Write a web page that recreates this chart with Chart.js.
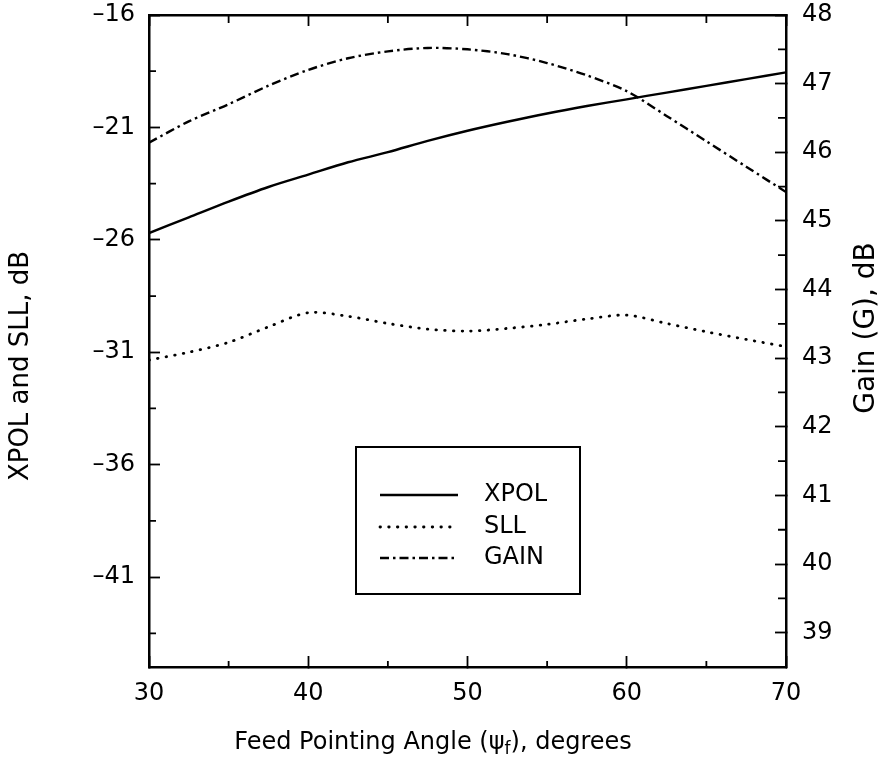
<!DOCTYPE html>
<html>
<head>
<meta charset="utf-8">
<script src="https://cdn.jsdelivr.net/npm/chart.js@4.4.1/dist/chart.umd.min.js"></script>
<style>
  html, body { margin: 0; padding: 0; background: #fff; }
  #wrap { width: 889px; height: 764px; }
</style>
</head>
<body>
<div id="wrap"><canvas id="chart" width="889" height="764"></canvas></div>
<script>
// feed pointing angle, degrees
const angles = [30, 32.5, 35, 37.5, 40, 42.5, 45, 47.5, 50, 52.5, 55, 57.5, 60, 62.5, 65, 67.5, 70];
// cross-polar level, dB (left axis)
const xpol = [-25.7, -25.0, -24.3, -23.65, -23.1, -22.55, -22.1, -21.6, -21.15, -20.75, -20.38, -20.05, -19.75, -19.45, -19.15, -18.85, -18.55];
// side lobe level, dB (left axis)
const sll = [-31.35, -31.0, -30.56, -29.87, -29.24, -29.4, -29.72, -29.97, -30.06, -29.94, -29.76, -29.52, -29.35, -29.72, -30.09, -30.43, -30.75];
// gain, dB (right axis)
const gain = [46.14, 46.45, 46.7, 46.97, 47.2, 47.37, 47.47, 47.52, 47.5, 47.43, 47.3, 47.12, 46.89, 46.53, 46.16, 45.79, 45.42];

const xMajor = [30, 40, 50, 60, 70];
const xMinor = [35, 45, 55, 65];
const leftMajor = [-16, -21, -26, -31, -36, -41];
const leftMinor = [-18.5, -23.5, -28.5, -33.5, -38.5, -43.5];
const rightMajor = [39, 40, 41, 42, 43, 44, 45, 46, 47, 48];
const rightMinor = [39.5, 40.5, 41.5, 42.5, 43.5, 44.5, 45.5, 46.5, 47.5];

const FONT = 'DejaVu Sans';
const INK = '#000';

const pts = (ys) => angles.map((a, i) => ({ x: a, y: ys[i] }));
const fixTicks = (vals) => (scale) => { scale.ticks = vals.map(v => ({ value: v })); };
const minus = (v) => (v < 0 ? '\u2013' + Math.abs(v) : String(v));

const gridOpts = {
    drawOnChartArea: false,
    drawTicks: true,
    tickLength: -11,
    tickWidth: 1.8,
    tickColor: INK
};
const borderOpts = { display: true, color: INK, width: 2.5 };
const tickFont = { family: FONT, size: 24 };

// fixed axis sizes so the plot frame stays put
const sizeX = (h) => (s) => { s.height = h; s.paddingLeft = 0; s.paddingRight = 0; };
const sizeY = (w) => (s) => { s.width = w; s.paddingTop = 0; s.paddingBottom = 0; };

// minor ticks, titles and the boxed legend
const decorations = {
    id: 'decorations',
    afterDraw(chart) {
        const ctx = chart.ctx;
        const { x, y, y1 } = chart.scales;
        const area = chart.chartArea;

        ctx.save();
        ctx.strokeStyle = INK;
        ctx.lineWidth = 1.8;
        ctx.beginPath();
        xMinor.forEach(v => {
            const px = x.getPixelForValue(v);
            ctx.moveTo(px, area.bottom); ctx.lineTo(px, area.bottom - 6);
            ctx.moveTo(px, area.top); ctx.lineTo(px, area.top + 8);
        });
        leftMinor.forEach(v => {
            const py = y.getPixelForValue(v);
            ctx.moveTo(area.left, py); ctx.lineTo(area.left + 7, py);
        });
        rightMinor.forEach(v => {
            const py = y1.getPixelForValue(v);
            ctx.moveTo(area.right, py); ctx.lineTo(area.right - 8, py);
        });
        ctx.stroke();

        // axis titles
        ctx.fillStyle = INK;
        ctx.textAlign = 'center';
        ctx.textBaseline = 'middle';

        ctx.font = '26px ' + FONT;
        ctx.save();
        ctx.translate(21, 366);
        ctx.rotate(-Math.PI / 2);
        ctx.fillText('XPOL and SLL, dB', 0, 0);
        ctx.restore();

        ctx.font = '28px ' + FONT;
        ctx.save();
        ctx.translate(867, 328);
        ctx.rotate(-Math.PI / 2);
        ctx.fillText('Gain (G), dB', 0, 0);
        ctx.restore();

        // x title with subscript f
        const head = 'Feed Pointing Angle (\u03c8';
        const tail = '), degrees';
        ctx.font = '24px ' + FONT;
        const wHead = ctx.measureText(head).width;
        const wTail = ctx.measureText(tail).width;
        ctx.font = '17px ' + FONT;
        const wSub = ctx.measureText('f').width;
        const total = wHead + wSub + wTail;
        let tx = 433 - total / 2;
        const ty = 743;
        ctx.textAlign = 'left';
        ctx.font = '24px ' + FONT;
        ctx.fillText(head, tx, ty);
        tx += wHead;
        ctx.font = '17px ' + FONT;
        ctx.fillText('f', tx, ty + 7);
        tx += wSub;
        ctx.font = '24px ' + FONT;
        ctx.fillText(tail, tx, ty);

        // legend
        ctx.lineWidth = 2;
        ctx.setLineDash([]);
        ctx.strokeRect(356, 447, 224, 147);
        const rows = [495, 527, 558];
        ctx.font = '24px ' + FONT;
        chart.data.datasets.forEach((ds, i) => {
            ctx.save();
            ctx.strokeStyle = ds.borderColor;
            ctx.lineWidth = ds.borderWidth;
            ctx.lineCap = ds.borderCapStyle || 'butt';
            ctx.setLineDash(ds.borderDash || []);
            ctx.beginPath();
            ctx.moveTo(380, rows[i]);
            ctx.lineTo(458, rows[i]);
            ctx.stroke();
            ctx.restore();
            ctx.fillText(ds.label, 484, rows[i]);
        });
        ctx.restore();
    }
};

new Chart(document.getElementById('chart'), {
    type: 'line',
    data: {
        datasets: [
            {
                label: 'XPOL',
                data: pts(xpol),
                yAxisID: 'y',
                borderColor: INK,
                borderWidth: 2.4,
                pointRadius: 0,
                tension: 0.3
            },
            {
                label: 'SLL',
                data: pts(sll),
                yAxisID: 'y',
                borderColor: INK,
                borderWidth: 2.8,
                borderCapStyle: 'round',
                borderDash: [0.5, 8.2],
                pointRadius: 0,
                tension: 0.3
            },
            {
                label: 'GAIN',
                data: pts(gain),
                yAxisID: 'y1',
                borderColor: INK,
                borderWidth: 2.4,
                borderDash: [9, 4, 2.5, 4],
                pointRadius: 0,
                tension: 0.3
            }
        ]
    },
    options: {
        responsive: false,
        devicePixelRatio: 1,
        animation: false,
        layout: { padding: 0 },
        plugins: {
            legend: { display: false },
            tooltip: { enabled: false }
        },
        scales: {
            x: {
                type: 'linear',
                position: 'bottom',
                min: 30,
                max: 70,
                afterBuildTicks: fixTicks(xMajor),
                afterFit: sizeX(97),
                grid: gridOpts,
                border: borderOpts,
                ticks: { padding: 23, color: INK, font: tickFont, maxRotation: 0 }
            },
            x2: {
                type: 'linear',
                position: 'top',
                min: 30,
                max: 70,
                afterBuildTicks: fixTicks(xMajor),
                afterFit: sizeX(15),
                grid: gridOpts,
                border: borderOpts,
                ticks: { callback: () => '', padding: 0 }
            },
            y: {
                type: 'linear',
                position: 'left',
                min: -45,
                max: -16,
                afterBuildTicks: fixTicks(leftMajor),
                afterFit: sizeY(149),
                grid: gridOpts,
                border: borderOpts,
                ticks: { padding: 25, color: INK, font: tickFont, callback: minus }
            },
            y1: {
                type: 'linear',
                position: 'right',
                min: 38.5,
                max: 48,
                afterBuildTicks: fixTicks(rightMajor),
                afterFit: sizeY(103),
                grid: gridOpts,
                border: borderOpts,
                ticks: { padding: 27, color: INK, font: tickFont }
            }
        }
    },
    plugins: [decorations]
});
</script>
</body>
</html>
